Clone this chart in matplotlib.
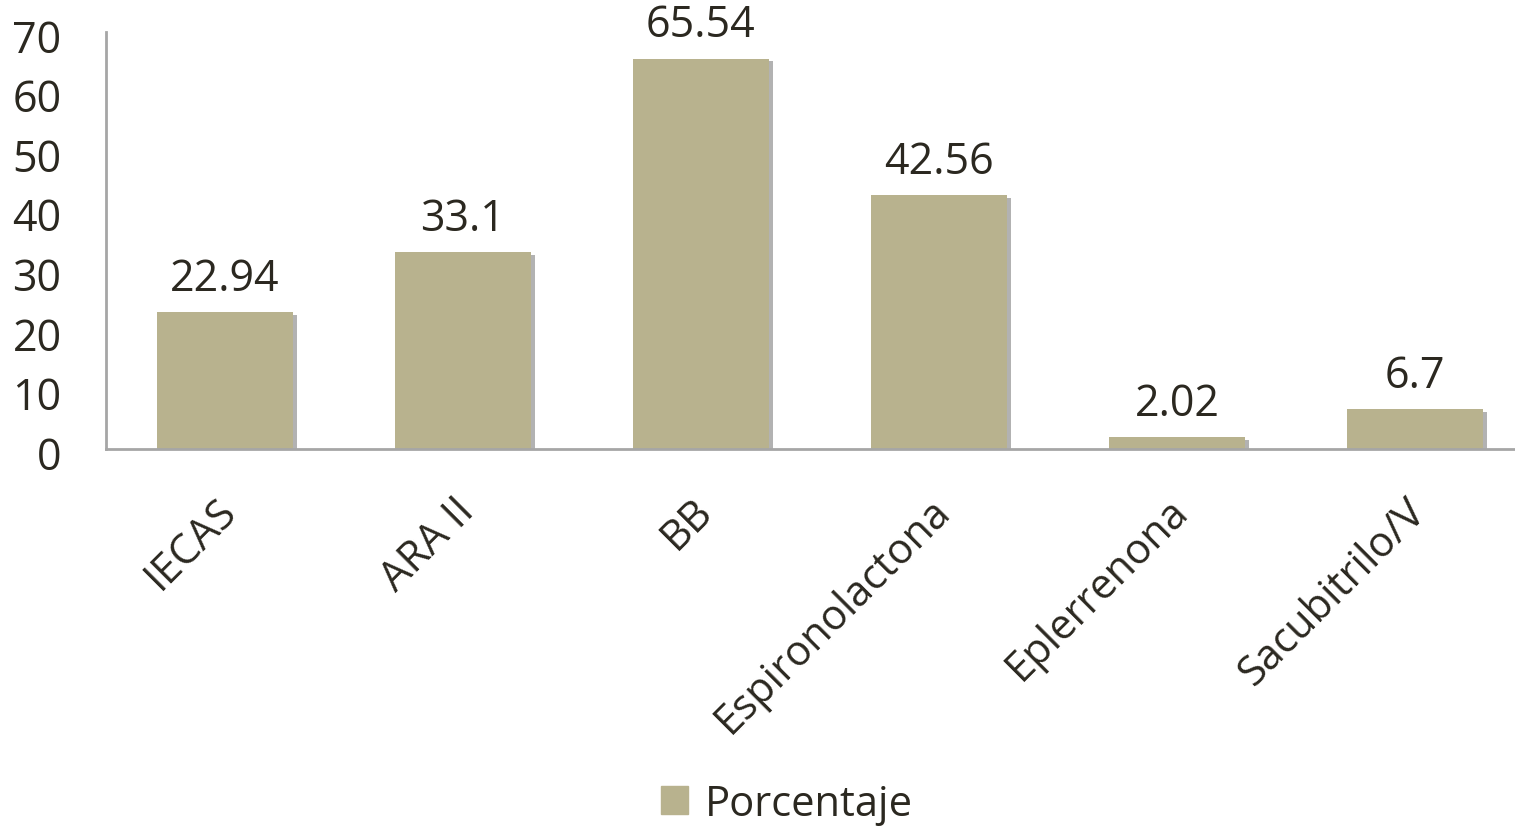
import numpy as np
import matplotlib.pyplot as plt
import matplotlib.patheffects as pe
import matplotlib.transforms as mtransforms
from matplotlib.patches import Patch

categorias = ["IECAS", "ARA II", "BB", "Espironolactona", "Eplerrenona", "Sacubitrilo/V"]
porcentaje = [22.94, 33.1, 65.54, 42.56, 2.02, 6.7]
etiquetas = ["22.94", "33.1", "65.54", "42.56", "2.02", "6.7"]
yticks = [0, 10, 20, 30, 40, 50, 60, 70]

color_barra = "#B8B28E"
color_texto = "#2B2820"
color_eje = "#A6A6A6"

plt.rcParams['font.family'] = ['Open Sans', 'DejaVu Sans']

fig = plt.figure(figsize=(15.15, 8.29), dpi=100)
# the x axis runs past the right edge in the reference
ax = fig.add_axes([106 / 1515, (829 - 450) / 829, 1428 / 1515, 417 / 829])

x = np.arange(len(categorias))
sombra = [pe.SimplePatchShadow(offset=(3, -2), shadow_rgbFace="#555555", alpha=0.45), pe.Normal()]
barras = ax.bar(x, porcentaje, width=0.57, color=color_barra, zorder=2)
for b in barras:
    b.set_path_effects(sombra)

for xi, v, t in zip(x, porcentaje, etiquetas):
    ax.annotate(t, (xi, v), xytext=(0, 8), textcoords="offset points",
                ha="center", va="bottom", fontsize=31, color=color_texto)

ax.set_xlim(-0.5, len(categorias) - 0.5)
ax.set_ylim(0, 70)
ax.set_yticks(yticks)
ax.set_xticks(x)
ax.set_xticklabels(categorias, rotation=45, ha="right", rotation_mode="anchor",
                   fontsize=30, color=color_texto)
ax.tick_params(axis="y", length=0, pad=32, labelsize=31, labelcolor=color_texto)
ax.tick_params(axis="x", length=0, pad=29)

# small nudges to line the labels up with the reference
desp_x = mtransforms.ScaledTranslation(-10 / 100, 0, fig.dpi_scale_trans)
for lab in ax.get_xticklabels():
    lab.set_transform(lab.get_transform() + desp_x)
desp_y = mtransforms.ScaledTranslation(0, -3 / 100, fig.dpi_scale_trans)
for lab in ax.get_yticklabels():
    lab.set_transform(lab.get_transform() + desp_y)

for s in ["top", "right"]:
    ax.spines[s].set_visible(False)
for s in ["left", "bottom"]:
    ax.spines[s].set_color(color_eje)
    ax.spines[s].set_linewidth(2)

fig.legend(handles=[Patch(color=color_barra)], labels=["Porcentaje"], loc="center",
           bbox_to_anchor=(787 / 1515, 24 / 829), frameon=False, fontsize=30,
           handlelength=0.65, handleheight=0.65, handletextpad=0.4,
           labelcolor=color_texto)

fig.savefig("out.png", dpi=100)
